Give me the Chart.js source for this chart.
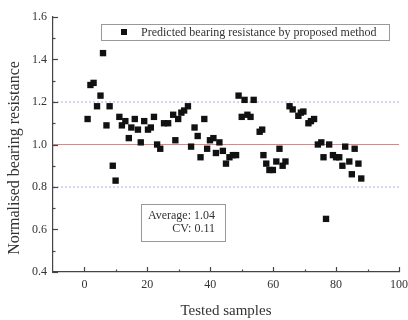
<!DOCTYPE html>
<html><head><meta charset="utf-8">
<script src="https://cdn.jsdelivr.net/npm/chart.js@4/dist/chart.umd.min.js"></script>
<style>html,body{margin:0;padding:0;background:#fff;}#wrap{width:408px;height:320px;}</style>
</head><body><div id="wrap"><canvas id="c" width="408" height="320"></canvas></div>
<script>
const sampleX = [1.0,1.9,2.9,4.0,5.1,5.9,7.0,8.0,9.0,9.9,11.1,11.9,13.0,14.1,14.9,16.0,17.0,17.9,19.0,20.2,21.1,22.1,23.1,24.1,25.3,26.6,28.2,28.9,29.8,30.8,31.7,32.9,33.9,35.0,36.0,36.9,38.1,39.0,39.9,41.0,41.8,42.9,44.0,45.0,46.1,47.2,48.2,49.0,50.0,50.9,51.8,52.8,53.8,55.7,56.5,56.9,57.8,58.8,59.9,61.0,62.0,63.0,63.9,65.2,66.2,68.0,68.8,69.6,71.2,72.0,73.0,74.2,75.3,76.0,76.8,77.8,79.0,80.0,81.0,82.0,82.9,84.2,85.0,85.9,87.1,88.0];
const normResistance = [1.12,1.28,1.29,1.18,1.23,1.43,1.09,1.18,0.90,0.83,1.13,1.09,1.11,1.03,1.08,1.12,1.07,1.01,1.11,1.07,1.08,1.13,1.00,0.98,1.10,1.10,1.14,1.02,1.12,1.15,1.16,1.18,0.99,1.08,1.04,0.94,1.12,0.98,1.02,1.03,0.96,1.01,0.97,0.91,0.94,0.95,0.95,1.23,1.13,1.21,1.14,1.13,1.21,1.06,1.07,0.95,0.91,0.88,0.88,0.92,0.98,0.90,0.92,1.18,1.165,1.135,1.15,1.155,1.10,1.11,1.12,1.00,1.01,0.94,0.65,1.00,0.95,0.94,0.94,0.90,0.99,0.92,0.86,0.98,0.91,0.84];
const xTickLabels = ['0','20','40','60','80','100'];
const yTickLabels = ['0.4','0.6','0.8','1.0','1.2','1.4','1.6'];
const refLines = [1.2, 1.0, 0.8];
const legendLabel = 'Predicted bearing resistance by proposed method';
const statLines = ['Average: 1.04', 'CV: 0.11'];
const xTitle = 'Tested samples';
const yTitle = 'Normalised bearing resistance';

const SERIF = "'Liberation Serif','Times New Roman',serif";
Chart.defaults.font.family = SERIF;
Chart.defaults.color = '#333';

const points = sampleX.map((x, i) => ({x, y: normResistance[i]}));
const refColors = ['rgb(170,175,230)', 'rgb(232,130,130)', 'rgb(170,175,230)'];
const refDash = [[2,2], [], [2,2]];
const refSets = refLines.map((v, i) => ({
  data: [{x: -10, y: v}, {x: 100, y: v}],
  showLine: true, pointRadius: 0, borderColor: refColors[i], borderWidth: 1,
  borderDash: refDash[i], order: 2
}));

const decor = {
  id: 'decor',
  afterDraw(chart) {
    const {ctx, chartArea: ca, scales: {x, y}} = chart;
    ctx.save();
    ctx.strokeStyle = '#444'; ctx.lineWidth = 1.2;
    x.ticks.forEach(t => {
      if (t.value < 0) return;
      const px = Math.round(x.getPixelForValue(t.value)) + 0.5;
      const major = xTickLabels.includes(String(t.value));
      const len = major ? 5 : 2.5;
      ctx.beginPath(); ctx.moveTo(px, ca.bottom); ctx.lineTo(px, ca.bottom - len); ctx.stroke();
    });
    y.ticks.forEach(t => {
      const py = Math.round(y.getPixelForValue(t.value)) + 0.5;
      const major = yTickLabels.includes(t.value.toFixed(1));
      const len = major ? 5 : 2.5;
      ctx.beginPath(); ctx.moveTo(ca.left, py); ctx.lineTo(ca.left + len, py); ctx.stroke();
    });
    // y title
    ctx.fillStyle = '#333';
    ctx.font = '16px ' + SERIF;
    ctx.textAlign = 'center'; ctx.textBaseline = 'middle';
    ctx.save(); ctx.translate(15, 158); ctx.rotate(-Math.PI / 2);
    ctx.fillText(yTitle, 0, 0); ctx.restore();
    // legend box
    ctx.strokeStyle = '#999'; ctx.lineWidth = 1;
    ctx.strokeRect(101.5, 24.5, 288, 16);
    ctx.fillStyle = '#111';
    ctx.fillRect(121, 29, 6, 6);
    ctx.fillStyle = '#333';
    ctx.font = '12px ' + SERIF;
    ctx.textAlign = 'left';
    ctx.fillText(legendLabel, 141, 32.5);
    // stats box
    ctx.strokeStyle = '#999';
    ctx.strokeRect(141.5, 204.5, 84, 37);
    ctx.textAlign = 'right';
    ctx.fillText(statLines[0], 215, 216);
    ctx.fillText(statLines[1], 215, 229);
    ctx.restore();
  }
};

new Chart(document.getElementById('c'), {
  type: 'scatter',
  data: {
    datasets: [{
      data: points, pointStyle: 'rect', pointRadius: 4.5, pointHoverRadius: 4.5,
      backgroundColor: '#111', borderWidth: 0, order: 1
    }, ...refSets]
  },
  options: {
    responsive: false, animation: false,
    layout: {padding: {top: 17, right: 9, left: 0, bottom: 0}},
    plugins: {legend: {display: false}, tooltip: {enabled: false}},
    scales: {
      x: {
        type: 'linear', min: -10, max: 100,
        grid: {drawOnChartArea: false, drawTicks: false},
        border: {display: true, color: '#444', width: 1.2},
        ticks: {stepSize: 10, autoSkip: false, maxRotation: 0, padding: 6,
          font: {size: 12}, color: '#333',
          callback: v => xTickLabels.includes(String(v)) ? String(v) : ''},
        title: {display: true, text: xTitle, font: {size: 15}, color: '#333', padding: {top: 0, bottom: 0}},
        afterFit: s => { s.height = 48; s.paddingLeft = 0; s.paddingRight = 0; }
      },
      y: {
        type: 'linear', min: 0.4, max: 1.6,
        grid: {drawOnChartArea: false, drawTicks: false},
        border: {display: true, color: '#444', width: 1.2},
        ticks: {stepSize: 0.1, autoSkip: false, padding: 6, font: {size: 12}, color: '#333',
          callback: v => { const s = Number(v).toFixed(1); return yTickLabels.includes(s) ? s : ''; }},
        afterFit: s => { s.width = 53; s.paddingTop = 0; s.paddingBottom = 0; }
      }
    }
  },
  plugins: [decor]
});
</script></body></html>
